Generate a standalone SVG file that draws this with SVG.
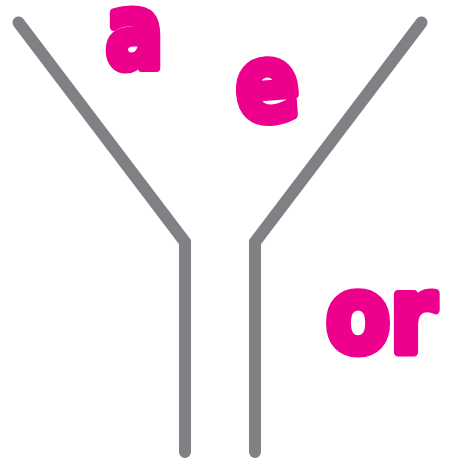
<svg xmlns="http://www.w3.org/2000/svg" width="449" height="466" viewBox="0 0 449 466">
<style>
.wall{fill:none;stroke:#808184;stroke-width:12;stroke-linecap:round;stroke-linejoin:miter}
.let{font-family:"DejaVu Sans",sans-serif;font-weight:bold;fill:#ec008c;stroke:#ec008c;stroke-width:9;stroke-linejoin:round;text-anchor:middle}
</style>
<rect width="449" height="466" fill="#ffffff"/>
<g id="funnel">
<polyline class="wall" points="18.5,22.5 185,242 185,452"/>
<polyline class="wall" points="421.5,22.5 255,242 255,452"/>
</g>
<g id="letter-a"><text class="let" font-size="104" transform="translate(134.5,68) scale(0.82,1)">a</text></g>
<g id="letter-e"><text class="let" font-size="106" transform="translate(269.5,120) rotate(-4) scale(0.88,1)">e</text></g>
<g id="letters-or"><text class="let" font-size="106" transform="translate(381,352) scale(0.88,1)">or</text></g>
</svg>
